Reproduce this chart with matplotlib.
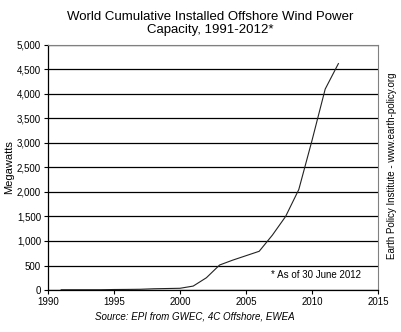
import matplotlib
matplotlib.use("Agg")
import matplotlib.pyplot as plt
from matplotlib.ticker import FuncFormatter

plt.rcParams["font.family"] = ["Liberation Sans", "DejaVu Sans"]

years = [1991, 1992, 1993, 1994, 1995, 1996, 1997, 1998, 1999, 2000,
         2001, 2002, 2003, 2004, 2005, 2006, 2007, 2008, 2009, 2010, 2011, 2012]
megawatts = [5, 5, 5, 5, 10, 12, 15, 25, 30, 35,
             80, 250, 510, 610, 700, 790, 1120, 1500, 2050, 3050, 4100, 4620]

fig = plt.figure(figsize=(4.01, 3.32), dpi=100)
ax = fig.add_axes([0.1197, 0.1265, 0.8229, 0.738])

ax.plot(years, megawatts, color="#222222", linewidth=0.8)

ax.set_xlim(1990, 2015)
ax.set_ylim(0, 5000)
ax.set_xticks(range(1990, 2016, 5))
ax.set_yticks(range(0, 5001, 500))
ax.yaxis.set_major_formatter(FuncFormatter(lambda v, p: f"{int(v):,}"))
ax.tick_params(labelsize=7, length=3, width=0.8, pad=2)
ax.grid(axis="y", color="black", linewidth=0.9)
ax.set_axisbelow(True)
for s in ["top", "right"]:
    ax.spines[s].set_color("#808080")
    ax.spines[s].set_linewidth(0.8)
for s in ["left", "bottom"]:
    ax.spines[s].set_linewidth(0.9)

ax.set_ylabel("Megawatts", fontsize=8)
ax.yaxis.set_label_coords(-0.102, 0.5)

fig.text(0.525, 0.93, "World Cumulative Installed Offshore Wind Power\nCapacity, 1991-2012*",
         ha="center", va="center", fontsize=9.5, linespacing=1.1)
ax.text(2013.7, 300, "* As of 30 June 2012", ha="right", va="center", fontsize=7)
fig.text(0.485, 0.048, "Source: EPI from GWEC, 4C Offshore, EWEA",
         ha="center", va="center", fontsize=7, style="italic")
fig.text(0.978, 0.50, "Earth Policy Institute - www.earth-policy.org",
         ha="center", va="center", rotation=90, fontsize=7)

fig.savefig("out.png", dpi=100)
